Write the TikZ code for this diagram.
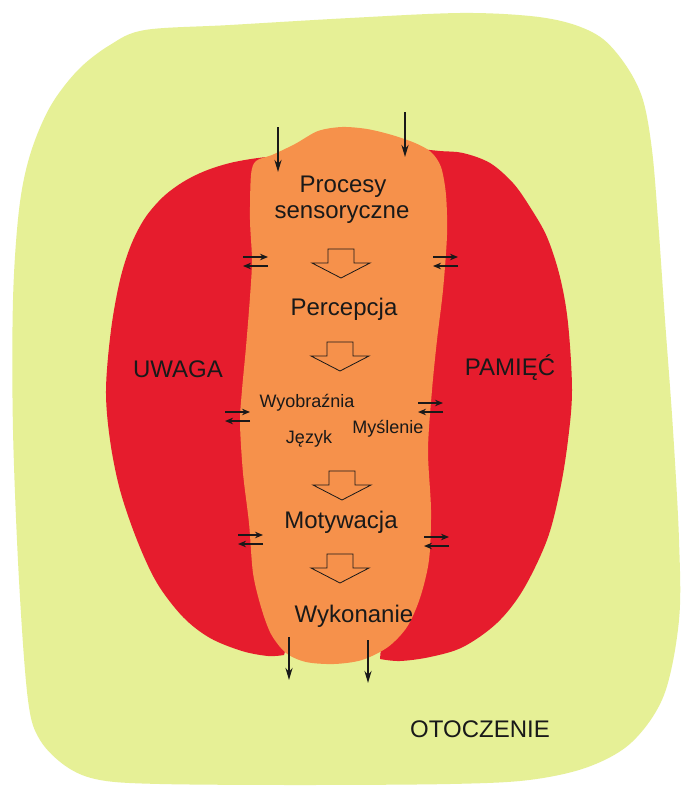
\documentclass[tikz,border=0pt]{standalone}
\usepackage{fontspec}
\setmainfont{Liberation Sans}
\usetikzlibrary{arrows.meta}
\definecolor{bgc}{RGB}{230,240,150}
\definecolor{redc}{RGB}{230,28,45}
\definecolor{orc}{RGB}{246,145,75}
\definecolor{ink}{RGB}{25,25,25}
\tikzset{
  big/.style={font=\fontsize{24}{26}\selectfont, text=ink, inner sep=0pt, anchor=base},
  small/.style={font=\fontsize{18}{20}\selectfont, text=ink, inner sep=0pt, anchor=base},
  flow/.style={draw=ink, line width=2pt, -{Stealth[length=12pt,width=7pt]}},
  xarr/.style={draw=ink, line width=1.7pt, -{Stealth[length=8pt,width=6.5pt]}},
  hollow/.style={draw=ink, line width=0.8pt, fill=orc, line join=miter},
  downarrow/.pic={\draw[hollow] (-13,0) -- (13,0) -- (13,14) -- (29,14) -- (0,29) -- (-29,14) -- (-13,14) -- cycle;},
  exch/.pic={
    \coordinate (-a1) at (0,0); \coordinate (-a2) at (25,0);
    \coordinate (-b1) at (25,9); \coordinate (-b2) at (0,9);
    \draw[xarr] (-a1) -- (-a2);
    \draw[xarr] (-b1) -- (-b2);}
}
\begin{document}
\begin{tikzpicture}[x=1pt,y=-1pt]
\useasboundingbox (0,0) rectangle (690,787);
\fill[white] (0,0) rectangle (690,787);
% environment blob
\fill[bgc] plot[smooth cycle, tension=0.55] coordinates {
 (145,30) (230,25) (350,18) (460,13) (530,16) (572,24) (603,39) (627,67)
 (643,100) (652,150) (658,220) (665,320) (673,430) (679,540) (679,620)
 (664,695) (632,742) (588,767) (529,780) (450,784) (300,785) (160,784)
 (100,780) (67,767) (40,740) (28,700) (19,580) (13,430) (13,300) (19,210)
 (30,155) (50,107) (78,70) (110,45)};
% left red (UWAGA)
\fill[redc] plot[smooth, tension=0.55] coordinates {
 (290,155) (258,158) (230,163) (205,171) (183,182) (163,197) (145,218)
 (131,245) (120,280) (111,330) (106,390) (110,440) (120,490) (137,540)
 (157,583) (183,617) (210,638) (242,651) (268,656) (284,655)}
 -- (300,600) -- (300,170) -- cycle;
% right red (PAMIEC)
\fill[redc] plot[smooth, tension=0.55] coordinates {
 (410,148) (440,151) (463,153) (490,163) (513,183) (530,207) (547,237)
 (560,277) (568,323) (572,390) (568,440) (560,490) (547,540) (523,590)
 (497,623) (463,647) (430,657) (400,661) (380,659)}
 -- (385,600) -- (390,170) -- cycle;
% central orange
\fill[orc] plot[smooth cycle, tension=0.5] coordinates {
 (251,175) (256,161) (272,155) (295,144) (318,131) (342,127) (367,129)
 (392,135) (415,143) (431,152) (441,167) (446,195) (447,235) (443,290)
 (437,340) (432,390) (428,450) (431,510) (429,560) (420,598) (407,627)
 (388,647) (362,660) (334,664) (306,662) (286,653) (271,634) (261,607)
 (253,573) (249,523) (243,473) (240,423) (242,390) (246,347) (250,297)
 (252,260) (250,220)};
% texts
\node[big] (proc) at (343,192) {Procesy};
\node[big] (sens) at (342,218) {sensoryczne};
\node[big] (perc) at (344,315) {Percepcja};
\node[small] (wyob) at (307,407) {Wyobraźnia};
\node[small] (mysl) at (388,433) {Myślenie};
\node[small] (jez) at (309,443) {Język};
\node[big] (moty) at (341,528) {Motywacja};
\node[big] (wyko) at (354,622) {Wykonanie};
\node[big] (uwaga) at (178,377) {UWAGA};
\node[big] (pam) at (510,375) {PAMIĘĆ};
\node[big] (oto) at (480,737) {OTOCZENIE};
% hollow flow arrows
\pic (h1) at (341,249) {downarrow};
\pic (h2) at (340,342) {downarrow};
\pic (h3) at (342,471) {downarrow};
\pic (h4) at (340,554) {downarrow};
% input / output arrows
\coordinate (in1s) at (278,127); \coordinate (in1e) at (278,172);
\coordinate (in2s) at (405,112); \coordinate (in2e) at (405,157);
\coordinate (out1s) at (289,637); \coordinate (out1e) at (289,680);
\coordinate (out2s) at (368,640); \coordinate (out2e) at (368,683);
\draw[flow] (in1s) -- (in1e);
\draw[flow] (in2s) -- (in2e);
\draw[flow] (out1s) -- (out1e);
\draw[flow] (out2s) -- (out2e);
% exchange arrows
\pic (x1) at (243,257) {exch};
\pic (x2) at (433,257) {exch};
\pic (x3) at (225,412) {exch};
\pic (x4) at (418,403) {exch};
\pic (x5) at (238,535) {exch};
\pic (x6) at (424,537) {exch};
\end{tikzpicture}
\end{document}
